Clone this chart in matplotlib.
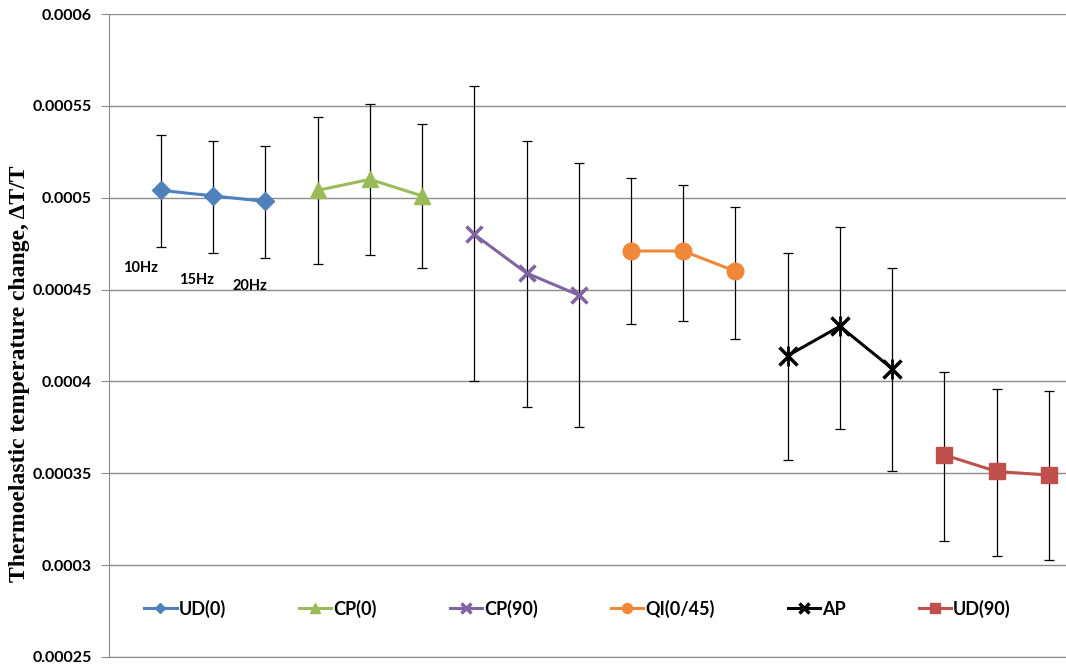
import matplotlib.pyplot as plt

# Podatki
series = ["UD(0)", "CP(0)", "CP(90)", "QI(0/45)", "AP", "UD(90)"]
x_pos = [[1, 2, 3], [4, 5, 6], [7, 8, 9], [10, 11, 12], [13, 14, 15], [16, 17, 18]]
vals = [
    [0.000504, 0.000501, 0.000498],
    [0.000504, 0.000510, 0.000501],
    [0.000480, 0.000459, 0.000447],
    [0.000471, 0.000471, 0.000460],
    [0.000414, 0.000430, 0.000407],
    [0.000360, 0.000351, 0.000349],
]
err_top = [
    [0.000534, 0.000531, 0.000528],
    [0.000544, 0.000551, 0.000540],
    [0.000561, 0.000531, 0.000519],
    [0.000511, 0.000507, 0.000495],
    [0.000470, 0.000484, 0.000462],
    [0.000405, 0.000396, 0.000395],
]
err_bot = [
    [0.000473, 0.000470, 0.000467],
    [0.000464, 0.000469, 0.000462],
    [0.000400, 0.000386, 0.000375],
    [0.000431, 0.000433, 0.000423],
    [0.000357, 0.000374, 0.000351],
    [0.000313, 0.000305, 0.000303],
]
y_ticks = [0.00025, 0.0003, 0.00035, 0.0004, 0.00045, 0.0005, 0.00055, 0.0006]
y_tick_labels = ["0.00025", "0.0003", "0.00035", "0.0004", "0.00045", "0.0005", "0.00055", "0.0006"]
freq_labels = ["10Hz", "15Hz", "20Hz"]
freq_pos = [(0.6, 0.000462), (1.68, 0.000455), (2.7, 0.000452)]

colors = ["#4F81BD", "#9BBB59", "#8064A2", "#F0883A", "#000000", "#C0504D"]
markers = ["D", "^", "x", "o", "x", "s"]
msizes = [9, 11, 12, 12, 13, 12]

fig = plt.figure(figsize=(10.66, 6.67), dpi=100)
ax = fig.add_axes([0.102, 0.015, 0.898, 0.964])

for i in range(len(series)):
    xs = x_pos[i]
    ys = vals[i]
    lo = [v - b for v, b in zip(ys, err_bot[i])]
    hi = [t - v for v, t in zip(ys, err_top[i])]
    ax.errorbar(xs, ys, yerr=[lo, hi], fmt="none", ecolor="black",
                elinewidth=0.9, capsize=3.5, capthick=0.9, zorder=2)
    mew = 2.5 if markers[i] == "x" else 1
    ax.plot(xs, ys, color=colors[i], marker=markers[i], markersize=msizes[i],
            linewidth=2.2, markeredgewidth=mew, label=series[i], zorder=3)
    if series[i] == "AP":
        # zvezdica: x + navpicna crta
        ax.plot(xs, ys, linestyle="none", marker="|", color="black",
                markersize=msizes[i] * 1.1, markeredgewidth=2.0, zorder=4)

for lab, (fx, fy) in zip(freq_labels, freq_pos):
    ax.text(fx, fy, lab, ha="center", va="center", fontsize=10.5,
            fontweight="bold", family="Lato")

ax.set_xlim(0, 18.33)
ax.set_yticks(y_ticks)
ax.set_yticklabels(y_tick_labels)
ax.set_ylim(0.00025, 0.0006)
ax.set_xticks([])
ax.grid(axis="y", color="#8c8c8c", linewidth=1)
ax.set_axisbelow(True)
for s in ["top", "right"]:
    ax.spines[s].set_visible(False)
ax.spines["left"].set_color("#8c8c8c")
ax.spines["bottom"].set_color("#8c8c8c")
ax.tick_params(axis="y", length=6, color="#8c8c8c", pad=6)
for t in ax.get_yticklabels():
    t.set_fontfamily("Lato")
    t.set_fontweight("bold")
    t.set_fontsize(11.5)

ax.set_ylabel("Thermoelastic temperature change, ΔT/T", family="Liberation Serif",
              fontweight="bold", fontsize=17)
ax.yaxis.set_label_coords(-0.082, 0.44)

leg = ax.legend(loc="center left", bbox_to_anchor=(0.02, 0.075), ncol=6,
                frameon=False, columnspacing=4.05, handlelength=1.8,
                handletextpad=0.1, markerscale=0.6,
                prop={"family": "Lato", "weight": "bold", "size": 13})

fig.savefig("out.png", dpi=100)
